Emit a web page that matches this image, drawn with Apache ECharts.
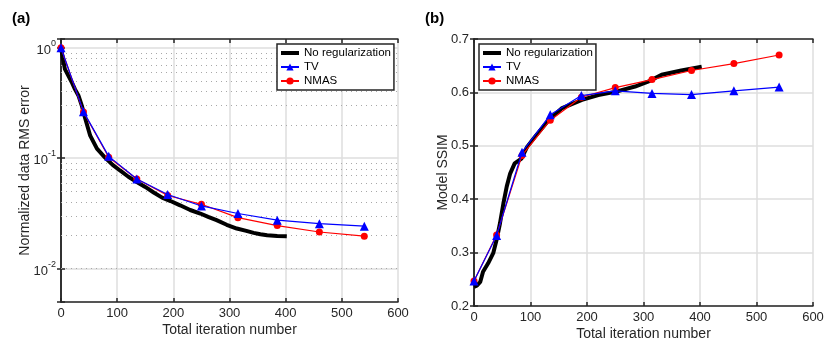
<!DOCTYPE html>
<html>
<head>
<meta charset="utf-8">
<script src="https://cdn.jsdelivr.net/npm/echarts@6/dist/echarts.min.js"></script>
<style>
  html, body { margin: 0; padding: 0; background: #fff; }
  #chart { width: 831px; height: 347px; }
</style>
</head>
<body>
<div id="chart"></div>
<script>
// marker iterations shared by TV and NMAS
const markIter = [0, 40, 85, 135, 190, 250, 315, 385, 460, 540];

// (a) normalized data RMS error
const rmsTV = [1.0, 0.264, 0.104, 0.065, 0.047, 0.037, 0.0316, 0.0275, 0.0256, 0.0243];
const rmsNMAS = [1.0, 0.262, 0.102, 0.065, 0.046, 0.0383, 0.029, 0.0246, 0.0215, 0.0197];
const noRegIterA = [0, 3, 7, 13, 19, 25, 31, 37, 43, 52, 64, 78, 92, 105, 120, 135, 150, 165, 180, 195,
  212, 230, 248, 262, 277, 295, 313, 330, 343, 355, 367, 385, 402];
const noRegRms = [1.0, 0.82, 0.64, 0.56, 0.49, 0.42, 0.37, 0.30, 0.23, 0.16, 0.122, 0.102, 0.087, 0.0775,
  0.068, 0.061, 0.055, 0.049, 0.044, 0.041, 0.0375, 0.034, 0.0316, 0.0295, 0.0275, 0.025, 0.0231,
  0.022, 0.0211, 0.0205, 0.0201, 0.0198, 0.0197];

// (b) model SSIM
const ssimTV = [0.247, 0.332, 0.488, 0.558, 0.594, 0.603, 0.598, 0.596, 0.603, 0.610];
const ssimNMAS = [0.247, 0.333, 0.482, 0.548, 0.591, 0.609, 0.624, 0.641, 0.654, 0.670];
const noRegIterB = [0, 5, 11, 16, 25, 34, 40, 46, 52, 58, 64, 72, 84, 94, 108, 132, 155, 191, 220,
  250, 285, 308, 332, 367, 403];
const noRegSsim = [0.236, 0.238, 0.245, 0.264, 0.28, 0.299, 0.324, 0.355, 0.392, 0.424, 0.448, 0.467,
  0.476, 0.498, 0.517, 0.548, 0.570, 0.586, 0.595, 0.601, 0.611, 0.620, 0.633, 0.641, 0.648];

// minor log gridlines 0.006 .. 0.9
const minorVals = [];
[0.001, 0.01, 0.1].forEach(d => {
  for (let k = 2; k <= 9; k++) {
    const v = +(k * d).toPrecision(3);
    if (v > 0.005 && v < 1.2) minorVals.push(v);
  }
});

const pair = (xs, ys) => xs.map((x, i) => [x, ys[i]]);

const font = 'Liberation Sans, Arial, Helvetica, sans-serif';
const ink = '#262626';
const gridGray = '#dedede';

function xAxes(gi) {
  return [
    {
      gridIndex: gi, type: 'value', min: 0, max: 600, interval: 100,
      name: 'Total iteration number', nameLocation: 'middle', nameGap: 21, nameMoveOverlap: false,
      nameTextStyle: { fontSize: 14, color: ink, fontFamily: font },
      axisLine: { lineStyle: { color: ink, width: 1.5 } },
      axisTick: { inside: true, length: 4, lineStyle: { color: ink, width: 1.5 } },
      axisLabel: { fontSize: 13, color: ink, fontFamily: font, margin: 5 },
      splitLine: { show: true, lineStyle: { color: gridGray, width: 1.5 } }
    },
    {
      gridIndex: gi, type: 'value', min: 0, max: 600, interval: 100, position: 'top',
      axisLine: { lineStyle: { color: ink, width: 1.5 } },
      axisTick: { inside: true, length: 4, lineStyle: { color: ink, width: 1.5 } },
      axisLabel: { show: false }, splitLine: { show: false }
    }
  ];
}

function legendFor(left) {
  return {
    data: [
      { name: 'No regularization', icon: 'path://M0,0H18V4H0Z' },
      'TV', 'NMAS'
    ],
    orient: 'vertical', left: left, top: 44, z: 10,
    itemWidth: 18, itemHeight: 9, itemGap: 2, padding: [3, 3, 3, 3],
    backgroundColor: '#fff', borderColor: ink, borderWidth: 1.5, borderRadius: 0,
    textStyle: { fontSize: 11.5, color: '#000', fontFamily: font }
  };
}

const isPow10 = v => Math.abs(Math.log10(v) - Math.round(Math.log10(v))) < 1e-6;

const chart = echarts.init(document.getElementById('chart'));

const option = {
  animation: false,
  backgroundColor: '#fff',
  title: [
    { text: '(a)', left: 7, top: 6, textStyle: { fontSize: 15, fontWeight: 'bold', color: '#000', fontFamily: font } },
    { text: '(b)', left: 420, top: 6, textStyle: { fontSize: 15, fontWeight: 'bold', color: '#000', fontFamily: font } }
  ],
  grid: [
    { left: 61, right: 433, top: 39, bottom: 45 },
    { left: 474, right: 18, top: 39, bottom: 41 }
  ],
  legend: [legendFor(277), legendFor(479)],
  xAxis: [...xAxes(0), ...xAxes(1)],
  yAxis: [
    {
      gridIndex: 0, type: 'log', logBase: 10, min: 0.005, max: 1.2,
      name: 'Normalized data RMS error', nameLocation: 'middle', nameGap: 29, nameMoveOverlap: false,
      nameTextStyle: { fontSize: 14, color: ink, fontFamily: font },
      axisLine: { lineStyle: { color: ink, width: 1.5 } },
      axisTick: { inside: true, length: 4, lineStyle: { color: ink, width: 1.5 } },
      axisLabel: {
        margin: 5, color: ink, fontFamily: font,
        formatter: v => isPow10(v) ? '{a|10}{b|' + Math.round(Math.log10(v)) + '}' : '',
        rich: {
          a: { fontSize: 13, color: ink, fontFamily: font, lineHeight: 18, verticalAlign: 'bottom' },
          b: { fontSize: 9, color: ink, fontFamily: font, verticalAlign: 'top' }
        }
      },
      splitLine: { show: true, lineStyle: { color: gridGray, width: 1.5 } }
    },
    {
      gridIndex: 0, type: 'log', logBase: 10, min: 0.005, max: 1.2, position: 'right',
      axisLine: { lineStyle: { color: ink, width: 1.5 } },
      axisTick: { inside: true, length: 4, lineStyle: { color: ink, width: 1.5 } },
      axisLabel: { show: false }, splitLine: { show: false }
    },
    {
      gridIndex: 1, type: 'value', min: 0.2, max: 0.7, interval: 0.1,
      name: 'Model SSIM', nameLocation: 'middle', nameGap: 24, nameMoveOverlap: false,
      nameTextStyle: { fontSize: 14, color: ink, fontFamily: font },
      axisLine: { lineStyle: { color: ink, width: 1.5 } },
      axisTick: { inside: true, length: 4, lineStyle: { color: ink, width: 1.5 } },
      axisLabel: { fontSize: 13, color: ink, fontFamily: font, margin: 5, formatter: v => v.toFixed(1) },
      splitLine: { show: true, lineStyle: { color: gridGray, width: 1.5 } }
    },
    {
      gridIndex: 1, type: 'value', min: 0.2, max: 0.7, interval: 0.1, position: 'right',
      axisLine: { lineStyle: { color: ink, width: 1.5 } },
      axisTick: { inside: true, length: 4, lineStyle: { color: ink, width: 1.5 } },
      axisLabel: { show: false }, splitLine: { show: false }
    }
  ],
  series: [
    {
      // minor dotted gridlines of the log axis
      name: 'minor grid', type: 'line', xAxisIndex: 0, yAxisIndex: 0, data: [], z: 1,
      markLine: {
        z: 1, silent: true, symbol: 'none', label: { show: false }, animation: false,
        lineStyle: { color: '#a8a8a8', type: [1, 4], width: 1 },
        data: minorVals.map(v => ({ yAxis: v }))
      }
    },
    {
      name: 'No regularization', type: 'line', xAxisIndex: 0, yAxisIndex: 0,
      data: pair(noRegIterA, noRegRms), showSymbol: false, symbol: 'none', z: 2,
      itemStyle: { color: '#000' }, lineStyle: { color: '#000', width: 4 }
    },
    {
      name: 'NMAS', type: 'line', xAxisIndex: 0, yAxisIndex: 0,
      data: pair(markIter, rmsNMAS), symbol: 'circle', symbolSize: 7, z: 3,
      itemStyle: { color: '#ff0000' }, lineStyle: { color: '#ff0000', width: 1.2 }
    },
    {
      name: 'TV', type: 'line', xAxisIndex: 0, yAxisIndex: 0,
      data: pair(markIter, rmsTV), symbol: 'triangle', symbolSize: 9, z: 4,
      itemStyle: { color: '#0000ff' }, lineStyle: { color: '#0000ff', width: 1.2 }
    },
    {
      name: 'No regularization', type: 'line', xAxisIndex: 2, yAxisIndex: 2,
      data: pair(noRegIterB, noRegSsim), showSymbol: false, symbol: 'none', z: 2,
      itemStyle: { color: '#000' }, lineStyle: { color: '#000', width: 4 }
    },
    {
      name: 'NMAS', type: 'line', xAxisIndex: 2, yAxisIndex: 2,
      data: pair(markIter, ssimNMAS), symbol: 'circle', symbolSize: 7, z: 3,
      itemStyle: { color: '#ff0000' }, lineStyle: { color: '#ff0000', width: 1.2 }
    },
    {
      name: 'TV', type: 'line', xAxisIndex: 2, yAxisIndex: 2,
      data: pair(markIter, ssimTV), symbol: 'triangle', symbolSize: 9, z: 4,
      itemStyle: { color: '#0000ff' }, lineStyle: { color: '#0000ff', width: 1.2 }
    }
  ]
};

chart.setOption(option);
</script>
</body>
</html>
